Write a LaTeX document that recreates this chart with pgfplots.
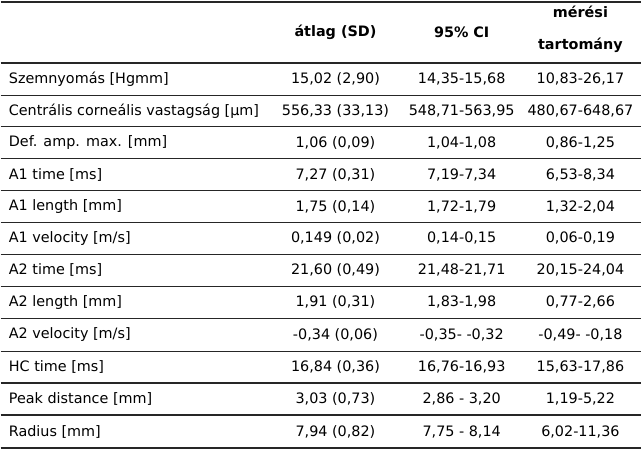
\documentclass[border=0pt]{standalone}
\usepackage{fontspec}
\setmainfont{DejaVu Sans}
\usepackage{pgfplots}
\usepackage{pgfplotstable}
\pgfplotsset{compat=1.18}

% rows: vertical position (px from top), label, mean (SD), 95% CI, range
\pgfplotstableread[col sep=semicolon]{
y;label;mean;ci;range
79.5;Szemnyomás [Hgmm];15,02 (2,90);14,35-15,68;10,83-26,17
111.5;Centrális corneális vastagság [µm];556,33 (33,13);548,71-563,95;480,67-648,67
143;Def. amp. max. [mm];1,06 (0,09);1,04-1,08;0,86-1,25
175;A1 time [ms];7,27 (0,31);7,19-7,34;6,53-8,34
207;A1 length [mm];1,75 (0,14);1,72-1,79;1,32-2,04
239;A1 velocity [m/s];0,149 (0,02);0,14-0,15;0,06-0,19
271;A2 time [ms];21,60 (0,49);21,48-21,71;20,15-24,04
303;A2 length [mm];1,91 (0,31);1,83-1,98;0,77-2,66
335.5;A2 velocity [m/s];-0,34 (0,06);-0,35- -0,32;-0,49- -0,18
368;HC time [ms];16,84 (0,36);16,76-16,93;15,63-17,86
400;Peak distance [mm];3,03 (0,73);2,86 - 3,20;1,19-5,22
432.5;Radius [mm];7,94 (0,82);7,75 - 8,14;6,02-11,36
}\datatable

\pgfplotstableread[col sep=semicolon]{
x;y;txt
335.5;32;átlag (SD)
462;32;95\% CI
581;12;mérési
581;45;tartomány
}\headtable

\begin{document}
\begin{tikzpicture}
\begin{axis}[
    width=642pt, height=452pt,
    scale only axis,
    xmin=0, xmax=642, ymin=0, ymax=452,
    y dir=reverse,
    hide axis,
    clip=false,
    every node near coord/.append style={font=\fontsize{14.4}{16}\selectfont, inner sep=0pt, text=black},
]
\addplot[draw=none, mark=none] coordinates {(0,0) (642,452)};

\pgfplotsinvokeforeach{2,63,96,127,159,191,223,255,287,319,352,384,416,449}{
  \addplot[black!85, line width=1.4pt] coordinates {(0,#1) (642,#1)};
}

% header
\addplot[draw=none, mark=none, nodes near coords, point meta=explicit symbolic,
  every node near coord/.append style={anchor=center, font=\fontsize{14.4}{16}\selectfont\bfseries}]
  table[x=x, y=y, meta=txt] {\headtable};

% row labels
\addplot[draw=none, mark=none, nodes near coords, point meta=explicit symbolic,
  every node near coord/.append style={anchor=west}]
  table[x expr=8, y=y, meta=label] {\datatable};
% mean (SD)
\addplot[draw=none, mark=none, nodes near coords, point meta=explicit symbolic,
  every node near coord/.append style={anchor=center}]
  table[x expr=335.5, y=y, meta=mean] {\datatable};
% 95% CI
\addplot[draw=none, mark=none, nodes near coords, point meta=explicit symbolic,
  every node near coord/.append style={anchor=center}]
  table[x expr=462, y=y, meta=ci] {\datatable};
% range
\addplot[draw=none, mark=none, nodes near coords, point meta=explicit symbolic,
  every node near coord/.append style={anchor=center}]
  table[x expr=581, y=y, meta=range] {\datatable};
\end{axis}
\end{tikzpicture}
\end{document}
